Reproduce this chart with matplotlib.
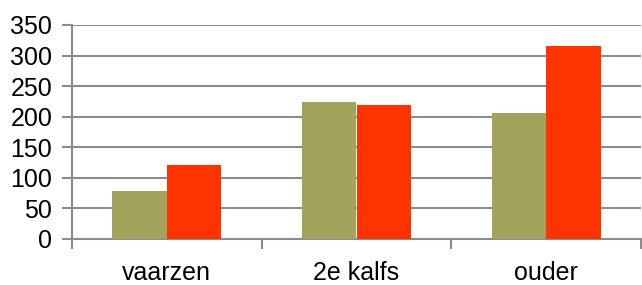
import matplotlib
matplotlib.use("Agg")
import matplotlib.pyplot as plt
import numpy as np

categories = ["vaarzen", "2e kalfs", "ouder"]
series_a = [79, 224, 206]
series_b = [121, 219, 316]
yticks = [0, 50, 100, 150, 200, 250, 300, 350]

plt.rcParams['font.family'] = ['Liberation Sans', 'DejaVu Sans']

fig = plt.figure(figsize=(6.42, 2.85), dpi=100)
ax = fig.add_axes([72/642, 1-239/285, 569/642, 214/285])

x = np.arange(len(categories))
w = 0.287
ax.bar(x - w/2, series_a, width=w, color="#A3A35B", zorder=3)
ax.bar(x + w/2, series_b, width=w, color="#FF3300", zorder=3)

ax.set_xlim(-0.5, 2.5)
ax.set_ylim(0, 350)
ax.set_yticks(yticks)
ax.set_yticklabels([str(v) for v in yticks])
ax.yaxis.grid(True, color="#8c8c8c", linewidth=1.5, zorder=0)
ax.set_axisbelow(True)

ax.set_xticks(x)
ax.set_xticklabels(categories)
ax.set_xticks([-0.5, 0.5, 1.5, 2.5], minor=True)
ax.tick_params(axis='x', which='major', length=0, pad=16, labelsize=18)
ax.tick_params(axis='x', which='minor', length=7, width=1.5, color="#8c8c8c", direction='out')
ax.tick_params(axis='y', length=7.2, width=1.5, color="#8c8c8c", pad=7, labelsize=18)

for s in ['top', 'right']:
    ax.spines[s].set_visible(False)
for s in ['left', 'bottom']:
    ax.spines[s].set_color("#8c8c8c")
    ax.spines[s].set_linewidth(1.5)

fig.savefig("out.png", dpi=100)
